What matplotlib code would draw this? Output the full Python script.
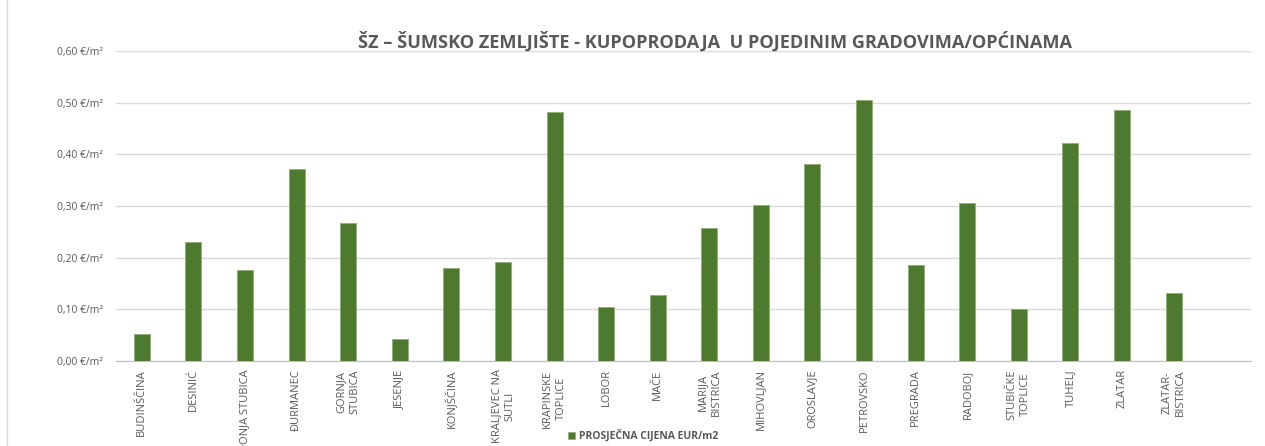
import matplotlib
matplotlib.use("Agg")
import matplotlib.pyplot as plt
from matplotlib.ticker import FuncFormatter
from matplotlib.patches import Rectangle

plt.rcParams['font.family'] = ['Open Sans', 'DejaVu Sans']

categories = ["BUDINŠČINA", "DESINIĆ", "DONJA STUBICA", "ĐURMANEC", "GORNJA\nSTUBICA",
              "JESENJE", "KONJŠČINA", "KRALJEVEC NA\nSUTLI", "KRAPINSKE\nTOPLICE", "LOBOR",
              "MAČE", "MARIJA\nBISTRICA", "MIHOVLJAN", "OROSLAVJE", "PETROVSKO",
              "PREGRADA", "RADOBOJ", "STUBIČKE\nTOPLICE", "TUHELJ", "ZLATAR",
              "ZLATAR-\nBISTRICA", ""]
values = [0.052, 0.230, 0.176, 0.372, 0.267, 0.043, 0.180, 0.192, 0.482, 0.105,
          0.128, 0.257, 0.302, 0.381, 0.505, 0.186, 0.306, 0.101, 0.422, 0.486,
          0.132, float('nan')]
yticks = [0.0, 0.1, 0.2, 0.3, 0.4, 0.5, 0.6]
series_name = "PROSJEČNA CIJENA EUR/m2"
title = "ŠZ – ŠUMSKO ZEMLJIŠTE - KUPOPRODAJA  U POJEDINIM GRADOVIMA/OPĆINAMA"

W, H = 1265, 446
fig = plt.figure(figsize=(W/100, H/100), dpi=100)
fig.patches.append(Rectangle((7/W, -0.1), 1.2, 1.2, transform=fig.transFigure,
                             fill=False, edgecolor='#d9d9d9', linewidth=1.0))
ax = fig.add_axes([116/W, 1-361/H, (1251-116)/W, (361-51)/H])

x = list(range(len(categories)))
ax.bar(x, values, width=0.31, color='#4e7a2f', edgecolor='#8fae73', linewidth=0.6,
       label=series_name, zorder=3)
ax.set_xlim(-0.5, len(categories)-0.5)
ax.set_ylim(0, 0.6)
ax.set_yticks(yticks)
ax.yaxis.set_major_formatter(FuncFormatter(lambda v, p: f"{v:.2f}".replace('.', ',') + " €/m²"))
ax.grid(axis='y', color='#d9d9d9', linewidth=1.0, zorder=0)
for s in ['top', 'right', 'left']:
    ax.spines[s].set_visible(False)
ax.spines['bottom'].set_color('#bfbfbf')
ax.tick_params(axis='y', length=0, colors='#595959', labelsize=7.5, pad=9.5)
ax.tick_params(axis='x', length=0, colors='#595959', labelsize=8.0, pad=6)
ax.set_xticks(x)
ax.set_xticklabels(categories, rotation=90, ha='center', va='top', linespacing=1.3)

fig.text(715/W, 1-42/H, title, ha='center', va='center', fontsize=13.1,
         fontweight='bold', color='#595959', family=['Open Sans', 'DejaVu Sans'])

leg = fig.legend(loc='center', bbox_to_anchor=(643/W, 1-436/H), frameon=False,
                 fontsize=7.5, handlelength=0.7, handleheight=0.7, handletextpad=0.3,
                 labelcolor='#595959')
for t in leg.get_texts():
    t.set_fontweight('bold')

fig.savefig("out.png", dpi=100)
